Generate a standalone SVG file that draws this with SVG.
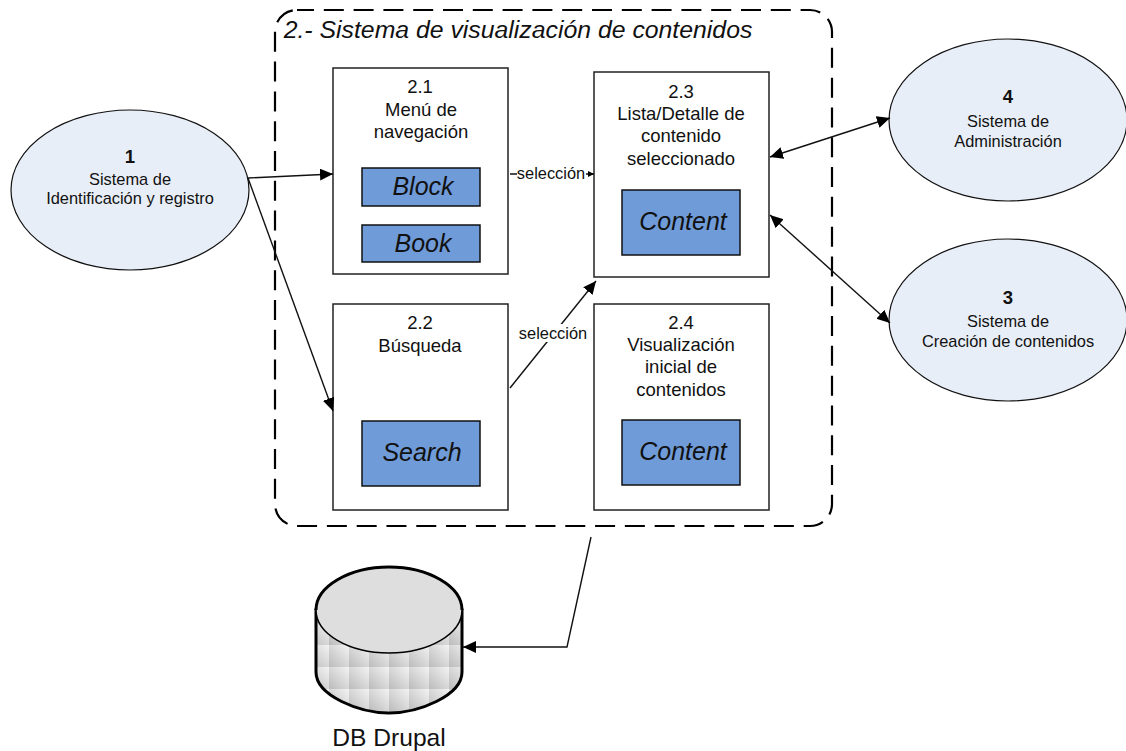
<svg xmlns="http://www.w3.org/2000/svg" width="1126" height="751" viewBox="0 0 1126 751">
<style>
text{font-family:"Liberation Sans",Arial,sans-serif;fill:#111;text-anchor:middle}
.t{font-size:16.4px}
.h{font-size:18.5px}
.n{font-size:18.5px;font-weight:bold}
.e{fill:#e8eef7;stroke:#111;stroke-width:1.2}
.b{fill:#fff;stroke:#222;stroke-width:1.5}
.c{fill:#6f9bd8;stroke:#111;stroke-width:1.5}
.i{font-size:25px;font-style:italic}
.l{fill:none;stroke:#111;stroke-width:1.4}
</style>
<defs>
<marker id="a" markerWidth="15" markerHeight="14" refX="13" refY="6" orient="auto" markerUnits="userSpaceOnUse"><path d="M0 0L13 6L0 12Z" fill="#000"/></marker>
<marker id="s" markerWidth="15" markerHeight="14" refX="13" refY="6" orient="auto-start-reverse" markerUnits="userSpaceOnUse"><path d="M0 0L13 6L0 12Z" fill="#000"/></marker>
<marker id="m" markerWidth="8" markerHeight="8" refX="6" refY="3" orient="auto" markerUnits="userSpaceOnUse"><path d="M0 0L6 3L0 6Z" fill="#000"/></marker>
<linearGradient id="g" x1="0" y1="1" x2="1" y2="0"><stop offset="0" stop-color="#bbb"/><stop offset="1" stop-color="#f3f3f3"/></linearGradient>
<pattern id="tile" width="20" height="22" patternUnits="userSpaceOnUse" x="309" y="623"><rect width="20" height="22" fill="url(#g)"/></pattern>
</defs>
<g id="frame"><rect x="275" y="10" width="557" height="516" rx="22" fill="none" stroke="#000" stroke-width="2.2" stroke-dasharray="20 9.8" stroke-dashoffset="3"/><text x="518" y="38" font-size="24.8" font-style="italic">2.- Sistema de visualización de contenidos</text></g>
<g id="n1"><ellipse class="e" cx="130" cy="190" rx="119" ry="80"/><text x="130" y="163" class="n">1</text><text x="130" y="185" class="t">Sistema de</text><text x="130" y="204" class="t">Identificación y registro</text></g>
<g id="n4"><ellipse class="e" cx="1008" cy="120" rx="119" ry="81"/><text x="1008" y="103" class="n">4</text><text x="1008" y="127" class="t">Sistema de</text><text x="1008" y="147" class="t">Administración</text></g>
<g id="n3"><ellipse class="e" cx="1008" cy="320" rx="119" ry="81"/><text x="1008" y="304" class="n">3</text><text x="1008" y="327" class="t">Sistema de</text><text x="1008" y="347" class="t">Creación de contenidos</text></g>
<g id="n21"><rect class="b" x="333" y="68" width="175" height="206"/><text x="420" y="93" class="h">2.1</text><text x="421" y="116" class="h">Menú de</text><text x="421" y="138" class="h">navegación</text><rect class="c" x="362" y="168" width="118" height="38"/><text x="423" y="195" class="i">Block</text><rect class="c" x="362" y="225" width="118" height="37"/><text x="423" y="252" class="i">Book</text></g>
<g id="n22"><rect class="b" x="333" y="304" width="175" height="206"/><text x="420" y="329" class="h">2.2</text><text x="420" y="352" class="h">Búsqueda</text><rect class="c" x="362" y="421" width="118" height="65"/><text x="422" y="461" class="i">Search</text></g>
<g id="n23"><rect class="b" x="594" y="72" width="175" height="205"/><text x="681" y="98" class="h">2.3</text><text x="681" y="120" class="h">Lista/Detalle de</text><text x="681" y="142" class="h">contenido</text><text x="681" y="165" class="h">seleccionado</text><rect class="c" x="622" y="190" width="118" height="65"/><text x="683" y="230" class="i">Content</text></g>
<g id="n24"><rect class="b" x="594" y="304" width="175" height="206"/><text x="681" y="329" class="h">2.4</text><text x="681" y="351" class="h">Visualización</text><text x="681" y="373" class="h">inicial de</text><text x="681" y="396" class="h">contenidos</text><rect class="c" x="622" y="420" width="118" height="65"/><text x="683" y="460" class="i">Content</text></g>
<g id="db"><path d="M316 610V672C316 696 360 713 389 713C418 713 462 696 462 672V610Z" fill="url(#tile)" stroke="#000" stroke-width="3"/><ellipse cx="389" cy="610" rx="73" ry="43" fill="#dedede" stroke="#000" stroke-width="1.5"/><path d="M316 610C316 586 350 567 389 567C428 567 462 586 462 610" fill="none" stroke="#000" stroke-width="3"/><text x="389" y="746" style="font-size:24.6px">DB Drupal</text></g>
<g id="connectors">
<path class="l" d="M248 178L333 174" marker-end="url(#a)"/>
<path class="l" d="M248 178L333 411" marker-end="url(#a)"/>
<path class="l" d="M510 174H594" marker-end="url(#m)"/>
<path class="l" d="M510 388L596 281" marker-end="url(#a)"/>
<path class="l" d="M770 157L890 118" marker-start="url(#s)" marker-end="url(#s)"/>
<path class="l" d="M770 215L890 323" marker-start="url(#s)" marker-end="url(#s)"/>
<path class="l" d="M591 537L567 647H463" marker-end="url(#a)"/>
<rect x="517" y="164" width="69" height="18" fill="#fff"/><text x="551" y="179" class="t">selección</text>
<rect x="517" y="324" width="70" height="18" fill="#fff"/><text x="553" y="339" class="t">selección</text>
</g>
</svg>
